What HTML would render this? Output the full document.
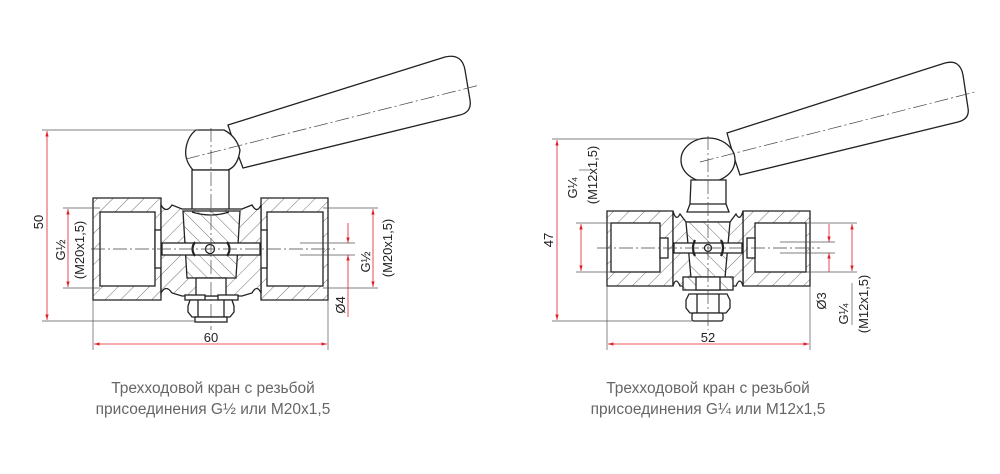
<!DOCTYPE html>
<html><head><meta charset="utf-8"><style>
html,body{margin:0;padding:0;background:#fff;}
svg{display:block;}
.t{font-family:"Liberation Sans",sans-serif;font-size:13px;fill:#222;}
.cap{font-family:"Liberation Sans",sans-serif;font-size:15.5px;fill:#666;text-anchor:middle;}
</style></head><body>
<svg width="1000" height="474" viewBox="0 0 1000 474" xmlns="http://www.w3.org/2000/svg">
<defs>
<pattern id="h" width="11" height="11" patternUnits="userSpaceOnUse" patternTransform="rotate(45)">
<rect width="11" height="11" fill="#fff"/><line x1="0" y1="0" x2="0" y2="11" stroke="#333" stroke-width="0.7"/></pattern>
<pattern id="h2" width="10" height="10" patternUnits="userSpaceOnUse" patternTransform="rotate(-45)">
<rect width="10" height="10" fill="#fff"/><line x1="0" y1="0" x2="0" y2="10" stroke="#333" stroke-width="0.7"/></pattern>
<marker id="a" viewBox="0 0 10 10" refX="10" refY="5" markerWidth="7" markerHeight="7" orient="auto-start-reverse"><path d="M0,2 L10,5 L0,8 z" fill="#e0202a"/></marker>
</defs>

<!-- ============ LEFT DRAWING ============ -->
<g stroke="#222" stroke-width="1.3" fill="none">
<path d="M228,125 L445,57 Q462,53 465,70 L470,100 Q472,112 460,115 L243,168 Q236,150 228,125 Z" fill="#fff"/>
<path d="M196,130 L224,130 Q236,136 240,150 Q238,166 228,170 L193,170 Q184,160 186,148 Q188,136 196,130 Z" fill="#fff"/>
<rect x="192" y="170" width="37" height="42" fill="#fff"/>
<path d="M93,198 H161 V300 H93 Z" fill="url(#h)"/>
<rect x="100" y="212" width="55" height="74" fill="#fff"/>
<rect x="155" y="230" width="7" height="38" fill="#fff"/>
<path d="M261,198 H328 V300 H261 Z" fill="url(#h)"/>
<rect x="267" y="212" width="56" height="74" fill="#fff"/>
<rect x="258" y="230" width="9" height="38" fill="#fff"/>
<path d="M161,205 Q166,214 172,205 L182,209 L242,209 L252,205 Q257,214 261,205 L261,293 Q257,284 252,293 L242,296 L182,296 L172,293 Q166,284 161,293 Z" fill="url(#h)"/>
<path d="M183,211 L240,211 L236,278 L187,278 Z" fill="url(#h2)"/>
<path d="M192,212 Q211,218 229,212" />
<rect x="162" y="243" width="98" height="12" fill="#fff"/>
<circle cx="210" cy="249" r="4.5" fill="#fff"/>
<path d="M195,242 Q190,249 195,256 M227,242 Q232,249 227,256" stroke-width="2.2"/>
<rect x="196" y="278" width="30" height="18" fill="#fff"/>
<rect x="185" y="295" width="20" height="5" fill="#fff"/><rect x="218" y="295" width="20" height="5" fill="#fff"/>
<path d="M190,300 H232 L234,306 V312 L230,317 H192 L188,312 V306 Z" fill="#fff"/>
<line x1="198" y1="300" x2="198" y2="317"/><line x1="224" y1="300" x2="224" y2="317"/>
<rect x="195" y="317" width="32" height="5" fill="#fff"/>
</g>
<g stroke="#444" stroke-width="0.7" fill="none" stroke-dasharray="14,3,2,3">
<line x1="91" y1="249" x2="335" y2="249"/>
<line x1="211" y1="128" x2="211" y2="330"/>
<line x1="186" y1="159" x2="480" y2="85"/>
</g>
<g stroke="#555" stroke-width="0.7">
<line x1="42" y1="130" x2="198" y2="130"/><line x1="42" y1="321" x2="195" y2="321"/>
<line x1="93" y1="300" x2="93" y2="350"/><line x1="328" y1="300" x2="328" y2="350"/>
<line x1="63" y1="208" x2="100" y2="208"/><line x1="63" y1="288" x2="100" y2="288"/>
<line x1="323" y1="208" x2="378" y2="208"/><line x1="323" y1="288" x2="378" y2="288"/>
<line x1="300" y1="243" x2="355" y2="243"/><line x1="300" y1="255" x2="355" y2="255"/>
</g>
<g stroke="#e0202a" stroke-width="0.8">
<line x1="47" y1="131" x2="47" y2="320" marker-start="url(#a)" marker-end="url(#a)"/>
<line x1="94" y1="344" x2="327" y2="344" marker-start="url(#a)" marker-end="url(#a)"/>
<line x1="68" y1="209" x2="68" y2="287" marker-start="url(#a)" marker-end="url(#a)"/>
<line x1="373" y1="209" x2="373" y2="287" marker-start="url(#a)" marker-end="url(#a)"/>
<line x1="348" y1="223" x2="348" y2="243" marker-end="url(#a)"/>
<line x1="348" y1="317" x2="348" y2="255" marker-end="url(#a)"/>
</g>
<text class="t" transform="translate(43,222) rotate(-90)" text-anchor="middle">50</text>
<text class="t" x="211" y="342" text-anchor="middle">60</text>
<text class="t" transform="translate(65,250) rotate(-90)" text-anchor="middle">G½</text>
<text class="t" transform="translate(84,250) rotate(-90)" text-anchor="middle">(M20x1,5)</text>
<text class="t" transform="translate(370,262) rotate(-90)" text-anchor="middle">G½</text>
<text class="t" transform="translate(392,248) rotate(-90)" text-anchor="middle">(M20x1,5)</text>
<text class="t" transform="translate(345,305) rotate(-90)" text-anchor="middle">Ø4</text>

<!-- ============ RIGHT DRAWING ============ -->
<g stroke="#222" stroke-width="1.3" fill="none">
<path d="M727,133 L945,63 Q960,59 963,75 L968,108 Q970,119 958,122 L740,175 Q733,155 727,133 Z" fill="#fff"/>
<ellipse cx="708" cy="160" rx="27" ry="22" fill="#fff"/>
<path d="M691,180 H726 V204 L729,212 H687 L690,204 Z" fill="#fff"/>
<line x1="690" y1="204" x2="726" y2="204"/>
<path d="M607,211 H673 V286 H607 Z" fill="url(#h)"/>
<rect x="611" y="223" width="49" height="49" fill="#fff"/>
<rect x="660" y="238" width="8" height="20" fill="#fff"/>
<path d="M743,211 H810 V286 H743 Z" fill="url(#h)"/>
<rect x="755" y="223" width="51" height="49" fill="#fff"/>
<rect x="747" y="238" width="8" height="20" fill="#fff"/>
<path d="M673,211 Q676,222 680,214 L686,222 L730,222 L736,214 Q740,222 743,211 L743,286 Q740,276 736,286 L730,286 L686,286 L680,286 Q676,276 673,286 Z" fill="url(#h)"/>
<path d="M686,222 L730,222 L725,278 L691,278 Z" fill="url(#h2)"/>
<rect x="674" y="243" width="68" height="10" fill="#fff"/>
<circle cx="708" cy="248" r="3.5" fill="#fff"/>
<path d="M695,240 Q691,248 695,256 M721,240 Q725,248 721,256" stroke-width="2.2"/>
<rect x="683" y="277" width="50" height="13" fill="url(#h2)"/>
<rect x="696" y="277" width="24" height="13" fill="#fff"/>
<path d="M689,294 H727 L730,300 V308 L726,313 H690 L686,308 V300 Z" fill="#fff"/>
<line x1="697" y1="294" x2="697" y2="313"/><line x1="719" y1="294" x2="719" y2="313"/>
<rect x="692" y="313" width="31" height="8" rx="2" fill="#fff"/>
</g>
<g stroke="#444" stroke-width="0.7" fill="none" stroke-dasharray="14,3,2,3">
<line x1="597" y1="248" x2="820" y2="248"/>
<line x1="708" y1="136" x2="708" y2="330"/>
<line x1="700" y1="162" x2="975" y2="92"/>
</g>
<g stroke="#555" stroke-width="0.7">
<line x1="552" y1="139" x2="700" y2="139"/><line x1="552" y1="321" x2="692" y2="321"/>
<line x1="607" y1="286" x2="607" y2="350"/><line x1="810" y1="286" x2="810" y2="350"/>
<line x1="576" y1="223" x2="611" y2="223"/><line x1="576" y1="272" x2="611" y2="272"/>
<line x1="806" y1="223" x2="857" y2="223"/><line x1="806" y1="272" x2="857" y2="272"/>
<line x1="780" y1="242" x2="835" y2="242"/><line x1="780" y1="253" x2="835" y2="253"/>
<line x1="579" y1="170" x2="590" y2="170"/><line x1="852" y1="283" x2="852" y2="325"/>
</g>
<g stroke="#e0202a" stroke-width="0.8">
<line x1="557" y1="140" x2="557" y2="320" marker-start="url(#a)" marker-end="url(#a)"/>
<line x1="608" y1="344" x2="809" y2="344" marker-start="url(#a)" marker-end="url(#a)"/>
<line x1="581" y1="224" x2="581" y2="271" marker-start="url(#a)" marker-end="url(#a)"/>
<line x1="852" y1="224" x2="852" y2="271" marker-start="url(#a)" marker-end="url(#a)"/>
<line x1="829" y1="224" x2="829" y2="242" marker-end="url(#a)"/>
<line x1="829" y1="272" x2="829" y2="253" marker-end="url(#a)"/>
</g>
<text class="t" transform="translate(553,240) rotate(-90)" text-anchor="middle">47</text>
<text class="t" x="708" y="342" text-anchor="middle">52</text>
<text class="t" transform="translate(577,188) rotate(-90)" text-anchor="middle">G¼</text>
<text class="t" transform="translate(597,175) rotate(-90)" text-anchor="middle">(M12x1,5)</text>
<text class="t" transform="translate(826,301) rotate(-90)" text-anchor="middle">Ø3</text>
<text class="t" transform="translate(848,314) rotate(-90)" text-anchor="middle">G¼</text>
<text class="t" transform="translate(868,304) rotate(-90)" text-anchor="middle">(M12x1,5)</text>

<text class="cap" x="213" y="393">Трехходовой кран с резьбой</text>
<text class="cap" x="213" y="414">присоединения G½ или M20x1,5</text>
<text class="cap" x="708" y="393">Трехходовой кран с резьбой</text>
<text class="cap" x="708" y="414">присоединения G¼ или M12x1,5</text>
</svg>
</body></html>
